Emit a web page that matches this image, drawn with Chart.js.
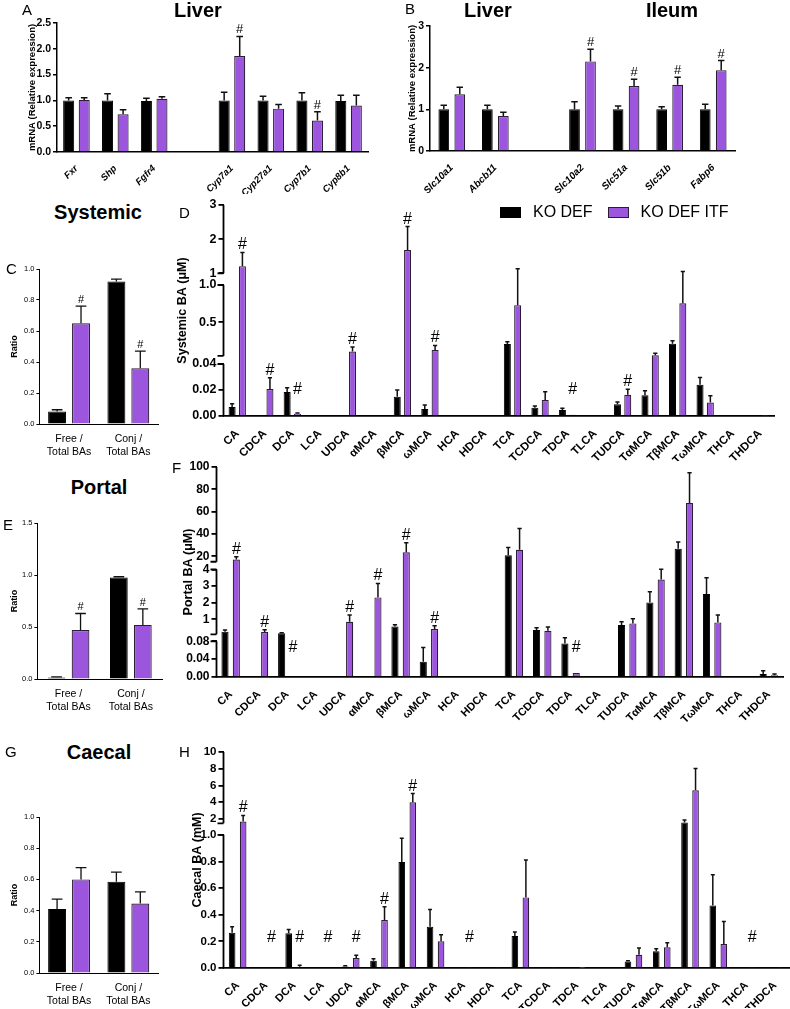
<!DOCTYPE html>
<html>
<head>
<meta charset="utf-8">
<script src="https://cdn.jsdelivr.net/npm/chart.js@4.4.1/dist/chart.umd.min.js"></script>
<style>
  body { margin: 0; background: #fff; width: 790px; height: 1009px; position: relative; overflow: hidden;
         font-family: "Liberation Sans", Arial, sans-serif; color: #000; }
  canvas { position: absolute; }
  .lt { position: absolute; font-size: 15px; line-height: 1; transform: translateY(-50%); }
  .tt { position: absolute; font-size: 20px; font-weight: bold; line-height: 1; transform: translate(-50%, -50%); white-space: nowrap; }
  .legend { position: absolute; left: 500px; top: 203px; font-size: 16px; line-height: 18px; display: flex; align-items: center; }
  .sw { display: inline-block; width: 21px; height: 11px; margin-right: 12px; box-sizing: border-box; }
</style>
</head>
<body>
<canvas id="cA"></canvas>
<canvas id="cB"></canvas>
<canvas id="cC"></canvas>
<canvas id="cD"></canvas>
<canvas id="cE"></canvas>
<canvas id="cF"></canvas>
<canvas id="cG"></canvas>
<canvas id="cH"></canvas>

<div class="lt" style="left:22px;top:9px">A</div>
<div class="tt" style="left:198px;top:10px">Liver</div>
<div class="lt" style="left:405px;top:8px">B</div>
<div class="tt" style="left:488px;top:10px">Liver</div>
<div class="tt" style="left:672px;top:10px">Ileum</div>
<div class="tt" style="left:98px;top:212px">Systemic</div>
<div class="lt" style="left:6px;top:268px">C</div>
<div class="lt" style="left:179px;top:212px">D</div>
<div class="tt" style="left:99px;top:487px">Portal</div>
<div class="lt" style="left:3px;top:524px">E</div>
<div class="lt" style="left:172px;top:467px">F</div>
<div class="lt" style="left:5px;top:751px">G</div>
<div class="tt" style="left:99px;top:752px">Caecal</div>
<div class="lt" style="left:179px;top:751px">H</div>
<div class="legend">
  <span class="sw" style="background:#000"></span><span>KO DEF</span>
  <span class="sw" style="background:#9c55dd;border:1.5px solid #2b1d33;margin-left:15px"></span><span>KO DEF ITF</span>
</div>

<script>
// ---- panel A: liver mRNA
const aLabels = ['Fxr', 'Shp', 'Fgfr4', '', 'Cyp7a1', 'Cyp27a1', 'Cyp7b1', 'Cyp8b1'];
const aDef = [1.0, 1.0, 0.99, null, 1.0, 1.0, 1.0, 0.99];
const aDefErr = [0.05, 0.13, 0.05, null, 0.16, 0.08, 0.15, 0.11];
const aItf = [1.01, 0.73, 1.03, null, 1.86, 0.84, 0.61, 0.90];
const aItfErr = [0.04, 0.09, 0.04, null, 0.38, 0.08, 0.17, 0.20];
const aSig = [0, 0, 0, 0, 1, 0, 1, 0];

// ---- panel B: liver / ileum mRNA
const bLabels = ['Slc10a1', 'Abcb11', '', 'Slc10a2', 'Slc51a', 'Slc51b', 'Fabp6'];
const bDef = [1.0, 1.0, null, 1.0, 1.0, 1.0, 1.0];
const bDefErr = [0.1, 0.1, null, 0.18, 0.08, 0.06, 0.12];
const bItf = [1.36, 0.84, null, 2.15, 1.56, 1.59, 1.94];
const bItfErr = [0.17, 0.09, null, 0.29, 0.16, 0.18, 0.23];
const bSig = [0, 0, 0, 1, 1, 1, 1];

// ---- ratio panels C, E, G
const ratioLabels = [['Free /', 'Total BAs'], ['Conj /', 'Total BAs']];
const cDef = [0.08, 0.92], cDefErr = [0.012, 0.015];
const cItf = [0.65, 0.36], cItfErr = [0.11, 0.11];
const cSig = [1, 1];
const eDef = [0.015, 0.975], eDefErr = [0.005, 0.008];
const eItf = [0.47, 0.52], eItfErr = [0.16, 0.155];
const eSig = [1, 1];
const gDef = [0.41, 0.585], gDefErr = [0.063, 0.062];
const gItf = [0.6, 0.445], gItfErr = [0.075, 0.075];
const gSig = [0, 0];

// ---- bile acid panels D, F, H
const baLabels = ['CA', 'CDCA', 'DCA', 'LCA', 'UDCA', 'αMCA', 'βMCA', 'ωMCA', 'HCA', 'HDCA',
  'TCA', 'TCDCA', 'TDCA', 'TLCA', 'TUDCA', 'TαMCA', 'TβMCA', 'TωMCA', 'THCA', 'THDCA'];

const dDef = [0.0069, 0, 0.0185, 0, 0.0003, 0, 0.0149, 0.0054, 0, 0, 0.21, 0.0064, 0.0046, 0, 0.009, 0.0159, 0.214, 0.024, 0, 0];
const dDefErr = [0.0026, 0, 0.0033, 0, 0, 0, 0.0051, 0.0031, 0, 0, 0.03, 0.0013, 0.0013, 0, 0.0018, 0.0036, 0.04, 0.0057, 0, 0];
const dItf = [1.21, 0.0208, 0.0018, 0, 0.11, 0, 1.68, 0.13, 0, 0, 0.73, 0.0123, 0.001, 0, 0.0164, 0.058, 0.755, 0.0103, 0, 0.0003];
const dItfErr = [0.4, 0.0087, 0.0005, 0, 0.06, 0, 0.69, 0.06, 0, 0, 0.4, 0.0064, 0, 0, 0.0041, 0.027, 0.3, 0.0053, 0, 0];
const dSig = [1, 1, 1, 0, 1, 0, 1, 1, 0, 0, 0, 0, 1, 0, 1, 0, 0, 0, 0, 0];
const dTickVals = [0, 0.02, 0.04, 0.5, 1, 1, 2, 3];
const dTickText = ['0.00', '0.02', '0.04', '0.5', '1.0', '1', '2', '3'];
const dTickSeg = [0, 0, 0, 1, 1, 2, 2, 2];

const fDef = [0.26, 0, 0.16, 0, 0, 0, 0.58, 0.034, 0, 0, 20.9, 0.36, 0.075, 0, 0.66, 2.02, 26.6, 2.52, 0, 0.0067];
const fDefErr = [0.1, 0, 0.04, 0, 0, 0, 0.1, 0.032, 0, 0, 6.9, 0.14, 0.015, 0, 0.2, 0.64, 6.2, 0.98, 0, 0.0073];
const fItf = [17.0, 0.24, 0.002, 0, 0.86, 2.32, 23.6, 0.42, 0, 0, 25.7, 0.32, 0.009, 0, 0.76, 3.4, 67.8, 0.82, 0, 0.004];
const fItfErr = [2.4, 0.14, 0, 0, 0.4, 0.84, 8.4, 0.2, 0, 0, 19.1, 0.22, 0, 0, 0.28, 0.84, 27, 0.44, 0, 0.0027];
const fSig = [1, 1, 1, 0, 1, 1, 1, 1, 0, 0, 0, 0, 1, 0, 0, 0, 0, 0, 0, 0];
const fTickVals = [0, 0.04, 0.08, 1, 2, 3, 4, 20, 40, 60, 80, 100];
const fTickText = ['0.00', '0.04', '0.08', '1', '2', '3', '4', '20', '40', '60', '80', '100'];
const fTickSeg = [0, 0, 0, 1, 1, 1, 1, 2, 2, 2, 2, 2];

const hDef = [0.265, 0.003, 0.26, 0.002, 0.012, 0.055, 0.795, 0.31, 0.002, 0.005, 0.24, 0.005, 0.002, 0, 0.048, 0.125, 1.6, 0.47, 0.002, 0.002];
const hDefErr = [0.045, 0, 0.03, 0, 0.004, 0.015, 0.18, 0.13, 0, 0, 0.03, 0, 0, 0, 0.007, 0.02, 0.28, 0.23, 0, 0];
const hItf = [1.71, 0.008, 0.01, 0, 0.075, 0.36, 4.0, 0.2, 0.005, 0.005, 0.53, 0.006, 0.002, 0, 0.1, 0.155, 5.44, 0.18, 0.005, 0.005];
const hItfErr = [0.72, 0, 0.01, 0, 0.02, 0.1, 1.04, 0.05, 0, 0, 0.28, 0, 0, 0, 0.05, 0.035, 2.6, 0.17, 0, 0];
const hSig = [1, 1, 1, 1, 1, 1, 1, 0, 1, 0, 0, 0, 0, 0, 0, 0, 0, 0, 1, 0];
const hTickVals = [0, 0.2, 0.4, 0.6, 0.8, 1.0, 2, 4, 6, 8, 10];
const hTickText = ['0.0', '0.2', '0.4', '0.6', '0.8', '1.0', '2', '4', '6', '8', '10'];
const hTickSeg = [0, 0, 0, 0, 0, 0, 1, 1, 1, 1, 1];

const PURPLE = '#9c55dd';
const FONT = '"Liberation Sans", Arial, sans-serif';
Chart.defaults.font.family = FONT;
Chart.defaults.color = '#000';

// broken axis pieces, bottom-up; from/to = share of the axis height
const BREAKS = {
  D: [{ min: 0, max: 0.04, from: 0, to: 0.2464 }, { min: 0.05, max: 1, from: 0.2848, to: 0.6209 }, { min: 1, max: 3, from: 0.6763, to: 1 }],
  F: [{ min: 0, max: 0.08, from: 0, to: 0.1698 }, { min: 0.1, max: 4, from: 0.203, to: 0.5121 }, { min: 15, max: 100, from: 0.5487, to: 1 }],
  H: [{ min: 0, max: 1, from: 0, to: 0.6166 }, { min: 1.5, max: 10, from: 0.670, to: 1 }]
};
const TICKS = {
  D: [dTickVals, dTickText, dTickSeg],
  F: [fTickVals, fTickText, fTickSeg],
  H: [hTickVals, hTickText, hTickSeg]
};

class BrokenScale extends Chart.LinearScale {
  static id = 'broken';
  segs() { return BREAKS[this.options.segKey]; }
  determineDataLimits() {
    const s = this.segs();
    this.min = s[0].min;
    this.max = s[s.length - 1].max;
  }
  buildTicks() {
    const [v, t, s] = TICKS[this.options.segKey];
    return v.map((val, i) => ({ value: val, seg: s[i], lbl: t[i] }));
  }
  segPixel(i, v) {
    const s = this.segs()[i];
    const f = s.from + (v - s.min) / (s.max - s.min) * (s.to - s.from);
    return this.bottom - f * (this.bottom - this.top);
  }
  getPixelForValue(v) {
    const segs = this.segs();
    if (v <= segs[0].max) return this.segPixel(0, v);
    for (let i = 1; i < segs.length; i++) {
      const s = segs[i], p = segs[i - 1];
      if (v < s.min) {
        const a = this.segPixel(i - 1, p.max), b = this.segPixel(i, s.min);
        return a + (v - p.max) / (s.min - p.max) * (b - a);
      }
      if (v <= s.max || i === segs.length - 1) return this.segPixel(i, v);
    }
  }
  getPixelForTick(i) {
    const t = this.ticks[i];
    return t ? this.segPixel(t.seg, t.value) : null;
  }
  getValueForPixel(px) {
    const segs = this.segs();
    const f = (this.bottom - px) / (this.bottom - this.top);
    for (const s of segs) {
      if (f <= s.to) return s.min + (f - s.from) / (s.to - s.from) * (s.max - s.min);
    }
    return this.max;
  }
}
Chart.register(BrokenScale);

// axis line drawn piece by piece for the broken axes
const brokenAxis = {
  id: 'brokenAxis',
  afterDraw(chart) {
    const y = chart.scales.y;
    if (y.type !== 'broken') return;
    const ctx = chart.ctx, x = chart.chartArea.left;
    const segs = BREAKS[y.options.segKey];
    ctx.save();
    ctx.strokeStyle = '#000';
    ctx.lineWidth = 1.8;
    segs.forEach((s, i) => {
      const p0 = y.segPixel(i, s.min), p1 = y.segPixel(i, s.max);
      ctx.beginPath();
      ctx.moveTo(x, p0); ctx.lineTo(x, p1);
      if (i > 0) { ctx.moveTo(x, p0); ctx.lineTo(x - 6, p0); }
      if (i < segs.length - 1) { ctx.moveTo(x, p1); ctx.lineTo(x - 6, p1); }
      ctx.stroke();
    });
    ctx.restore();
  }
};

// error bars (upper only) and # marks
const errPlugin = {
  id: 'errs',
  afterDatasetsDraw(chart, args, o) {
    const ctx = chart.ctx, y = chart.scales.y;
    ctx.save();
    ctx.strokeStyle = '#111';
    ctx.lineWidth = o.lw;
    chart.data.datasets.forEach((ds, di) => {
      chart.getDatasetMeta(di).data.forEach((bar, i) => {
        const v = ds.data[i], e = ds.err[i];
        if (v == null || !e) return;
        const top = y.getPixelForValue(v + e);
        const cw = bar.width * o.cap;
        ctx.beginPath();
        ctx.moveTo(bar.x, bar.y);
        ctx.lineTo(bar.x, top);
        ctx.moveTo(bar.x - cw, top);
        ctx.lineTo(bar.x + cw, top);
        ctx.stroke();
      });
    });
    const ds = chart.data.datasets[1];
    const meta = chart.getDatasetMeta(1);
    const base = y.getPixelForValue(0);
    ctx.fillStyle = '#000';
    ctx.font = o.hashSize + 'px ' + FONT;
    ctx.textAlign = 'center';
    ctx.textBaseline = 'alphabetic';
    o.sig.forEach((s, i) => {
      if (!s) return;
      const v = ds.data[i] || 0, e = ds.err[i] || 0;
      const top = y.getPixelForValue(v + e);
      const ty = Math.min(top - o.gap, base - o.minOff);
      ctx.fillText('#', meta.data[i].x, ty);
    });
    ctx.restore();
  }
};

function panel(p) {
  const cv = document.getElementById(p.id);
  const left = p.axisX - p.yw, top = p.top - p.padTop;
  const W = Math.round(p.right + 6 - left), H = Math.round(p.bottom + p.xh - top);
  cv.width = W; cv.height = H;
  cv.style.left = left + 'px'; cv.style.top = top + 'px';
  cv.style.width = W + 'px'; cv.style.height = H + 'px';

  const yScale = p.broken ? {
    type: 'broken', segKey: p.broken,
    border: { display: false },
    grid: { display: true, drawOnChartArea: false, tickLength: 5, color: '#000', lineWidth: p.axisW },
    ticks: { autoSkip: false, padding: 2, font: p.yFont, callback: (v, i, t) => t[i].lbl }
  } : {
    type: 'linear', min: 0, max: p.yMax,
    border: { display: true, color: '#000', width: p.axisW },
    grid: { display: true, drawOnChartArea: false, tickLength: p.tickLen, color: '#000', lineWidth: p.axisW },
    ticks: { stepSize: p.step, padding: 2, font: p.yFont, callback: v => v.toFixed(p.dec) }
  };
  yScale.title = { display: true, text: p.yTitle, font: p.yTitleFont, padding: 0 };
  yScale.afterFit = s => { s.width = p.yw; };

  return new Chart(cv, {
    type: 'bar',
    data: {
      labels: p.labels,
      datasets: [
        { label: 'KO DEF', data: p.def, err: p.defErr, backgroundColor: '#000', borderColor: '#000',
          borderWidth: 1, categoryPercentage: p.cat, barPercentage: p.bar },
        { label: 'KO DEF ITF', data: p.itf, err: p.itfErr, backgroundColor: PURPLE, borderColor: '#2b1d33',
          borderWidth: 1.2, categoryPercentage: p.cat, barPercentage: p.bar }
      ]
    },
    options: {
      responsive: false, animation: false, devicePixelRatio: 1,
      layout: { padding: { top: p.padTop, right: 6, left: 0, bottom: 0 } },
      plugins: {
        legend: { display: false }, tooltip: { enabled: false },
        errs: { sig: p.sig, lw: p.errW, cap: 0.3, hashSize: p.hash, gap: 3, minOff: p.minOff || 0 }
      },
      scales: {
        x: {
          border: { display: true, color: '#000', width: p.axisW },
          grid: { display: false },
          ticks: { autoSkip: false, minRotation: p.rot, maxRotation: p.rot, padding: p.xPad, font: p.xFont },
          afterFit: s => { s.height = p.xh; }
        },
        y: yScale
      }
    },
    plugins: [errPlugin, brokenAxis]
  });
}

const bold = (size, style) => ({ size, weight: 'bold', style: style || 'normal' });

panel({ id: 'cA', axisX: 57, top: 22.7, right: 368, bottom: 151.7, yw: 30, padTop: 21, xh: 42, xPad: 3,
  labels: aLabels, def: aDef, defErr: aDefErr, itf: aItf, itfErr: aItfErr, sig: aSig,
  cat: 0.8, bar: 0.71, yMax: 2.5, step: 0.5, dec: 1, tickLen: 4, axisW: 1.5, errW: 1.5, hash: 13,
  yFont: bold(10.5), yTitle: 'mRNA (Relative expression)', yTitleFont: bold(9.5),
  xFont: bold(9.5, 'italic'), rot: 45 });

panel({ id: 'cB', axisX: 430, top: 26, right: 735, bottom: 151, yw: 23, padTop: 24, xh: 42, xPad: 3,
  labels: bLabels, def: bDef, defErr: bDefErr, itf: bItf, itfErr: bItfErr, sig: bSig,
  cat: 0.734, bar: 0.67, yMax: 3, step: 1, dec: 0, tickLen: 4, axisW: 1.5, errW: 1.5, hash: 13,
  yFont: bold(10.5), yTitle: 'mRNA (Relative expression)', yTitleFont: bold(9.5),
  xFont: bold(10, 'italic'), rot: 45 });

const ratioCommon = { right: 158, yw: 30.4, padTop: 8, xh: 38, xPad: 1, labels: ratioLabels,
  cat: 0.807, bar: 0.75, step: 0.2, dec: 1, tickLen: 3, axisW: 1, errW: 1.3, hash: 11,
  yFont: { size: 7.5 }, yTitle: 'Ratio', yTitleFont: bold(9), xFont: { size: 10.5 }, rot: 0 };

panel(Object.assign({}, ratioCommon, { id: 'cC', axisX: 39, top: 269, bottom: 424, yMax: 1,
  def: cDef, defErr: cDefErr, itf: cItf, itfErr: cItfErr, sig: cSig }));
panel(Object.assign({}, ratioCommon, { id: 'cE', axisX: 37, top: 523, right: 162, bottom: 679, yw: 28.4,
  yMax: 1.5, step: 0.5, cat: 0.77, bar: 0.74,
  def: eDef, defErr: eDefErr, itf: eItf, itfErr: eItfErr, sig: eSig }));
panel(Object.assign({}, ratioCommon, { id: 'cG', axisX: 39, top: 817, bottom: 973, yMax: 1,
  def: gDef, defErr: gDefErr, itf: gItf, itfErr: gItfErr, sig: gSig }));

panel({ id: 'cD', axisX: 223, top: 205, right: 773, bottom: 416, yw: 48.5, padTop: 10, xh: 45, xPad: 3,
  labels: baLabels, def: dDef, defErr: dDefErr, itf: dItf, itfErr: dItfErr, sig: dSig,
  cat: 0.75, bar: 0.68, broken: 'D', axisW: 1.8, errW: 1.5, hash: 16, minOff: 22,
  yFont: bold(12.5), yTitle: 'Systemic BA (μM)', yTitleFont: bold(12.5),
  xFont: bold(11.5), rot: 45 });

panel({ id: 'cF', axisX: 216, top: 466.7, right: 782, bottom: 677, yw: 35.5, padTop: 10, xh: 45, xPad: 3,
  labels: baLabels, def: fDef, defErr: fDefErr, itf: fItf, itfErr: fItfErr, sig: fSig,
  cat: 0.8, bar: 0.63, broken: 'F', axisW: 1.8, errW: 1.5, hash: 16, minOff: 25,
  yFont: bold(12), yTitle: 'Portal BA (μM)', yTitleFont: bold(12.5),
  xFont: bold(11), rot: 45 });

panel({ id: 'cH', axisX: 223, top: 752.3, right: 788, bottom: 968, yw: 33.5, padTop: 10, xh: 40, xPad: 3,
  labels: baLabels, def: hDef, defErr: hDefErr, itf: hItf, itfErr: hItfErr, sig: hSig,
  cat: 0.78, bar: 0.6, broken: 'H', axisW: 1.8, errW: 1.5, hash: 16, minOff: 26,
  yFont: bold(11.5), yTitle: 'Caecal BA (mM)', yTitleFont: bold(12.5),
  xFont: bold(11), rot: 45 });
</script>
</body>
</html>
